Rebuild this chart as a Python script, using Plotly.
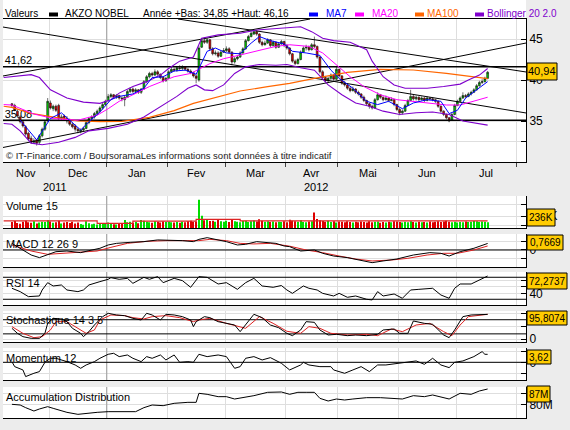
import numpy as np
import pandas as pd
import plotly.graph_objects as go

# AKZO NOBEL, daily candles 11 Nov 2011 -> 17 Jul 2012 (Euronext trading days)
opens = [
    37.1, 36.9, 36.2, 35.5, 34.9, 34.3, 33.5, 32.9, 32.4, 32.7,
    32.4, 33.2, 34.0, 35.0, 37.2, 36.5, 36.8, 36.9, 35.3, 35.6,
    35.3, 35.1, 34.6, 34.4, 34.0, 33.7, 33.9, 34.1, 34.8, 35.3,
    35.5, 35.9, 36.2, 36.6, 37.0, 37.5, 38.0, 38.2, 37.9, 38.1,
    37.8, 37.6, 37.9, 38.6, 38.9, 38.6, 38.8, 38.5, 38.9, 39.8,
    40.4, 40.8, 40.6, 41.0, 40.7, 40.3, 39.9, 40.2, 41.0, 41.3,
    41.2, 41.5, 41.4, 41.6, 41.3, 41.1, 40.9, 40.5, 40.0, 44.0,
    44.8, 44.6, 44.9, 43.8, 43.2, 43.3, 42.9, 43.4, 43.6, 43.8,
    43.4, 42.2, 42.6, 42.8, 43.3, 43.8, 44.8, 45.3, 45.6, 45.9,
    45.6, 44.6, 44.3, 44.5, 44.9, 44.2, 44.6, 44.0, 44.4, 44.7,
    44.2, 43.9, 43.2, 42.3, 42.0, 42.5, 43.4, 43.9, 44.0, 43.7,
    44.3, 44.1, 42.8, 41.0, 40.3, 39.9, 40.2, 40.6, 40.1, 41.3,
    40.5, 39.6, 39.4, 39.0, 38.7, 38.9, 38.5, 38.3, 37.9, 37.5,
    37.1, 36.8, 36.6, 37.6, 38.2, 37.9, 37.6, 37.8, 37.5, 37.6,
    37.0, 36.4, 36.0, 36.2, 36.9, 37.5, 38.0, 37.7, 37.9, 37.6,
    37.8, 37.5, 37.8, 37.7, 37.6, 37.4, 36.8, 36.2, 35.8, 35.4,
    35.1, 35.8, 36.9, 37.4, 37.8, 38.1, 38.0, 38.3, 38.5, 38.8,
    39.3, 39.7, 39.8, 40.2,
]
highs = [
    37.2, 37.1, 36.4, 35.7, 35.1, 34.5, 33.7, 33.2, 32.9, 32.8,
    33.4, 34.2, 35.1, 37.8, 37.5, 37.0, 37.0, 37.1, 35.8, 35.8,
    35.6, 35.3, 34.8, 34.6, 34.2, 34.1, 34.3, 35.0, 35.5, 35.7,
    36.1, 36.4, 36.8, 37.2, 37.6, 38.3, 38.4, 38.3, 38.3, 38.2,
    38.0, 38.1, 38.8, 39.1, 39.1, 39.0, 38.9, 39.0, 40.0, 40.6,
    41.0, 41.0, 41.3, 41.2, 40.8, 40.5, 40.4, 41.2, 41.6, 41.5,
    41.7, 41.8, 41.8, 41.7, 41.5, 41.3, 41.0, 40.7, 44.2, 45.1,
    45.2, 45.1, 45.0, 44.0, 43.6, 43.5, 43.6, 43.9, 44.1, 44.0,
    43.5, 42.8, 43.0, 43.5, 44.0, 45.0, 45.5, 45.9, 46.16, 46.1,
    45.7, 44.8, 44.8, 45.1, 45.0, 44.8, 44.7, 44.6, 44.9, 44.8,
    44.4, 44.0, 43.3, 42.5, 42.7, 43.6, 44.1, 44.3, 44.2, 44.5,
    45.3, 44.2, 42.9, 41.2, 40.5, 40.4, 40.8, 40.7, 41.6, 41.4,
    40.6, 39.9, 39.6, 39.2, 39.2, 39.0, 38.7, 38.4, 38.1, 37.6,
    37.2, 37.0, 37.8, 38.5, 38.3, 38.0, 38.1, 37.9, 37.9, 37.7,
    37.1, 36.6, 36.4, 37.1, 37.7, 38.8, 38.2, 38.1, 38.0, 38.0,
    37.9, 38.0, 37.9, 37.9, 37.7, 37.5, 36.9, 36.3, 35.9, 35.5,
    36.0, 37.1, 37.6, 38.0, 38.5, 38.3, 38.5, 38.7, 39.0, 39.5,
    39.9, 40.1, 40.4, 41.1,
]
lows = [
    36.7, 36.2, 35.4, 34.7, 34.2, 33.2, 32.6, 32.2, 32.2, 32.0,
    32.2, 33.0, 33.8, 34.9, 36.4, 36.2, 36.1, 35.1, 35.0, 35.0,
    34.7, 34.4, 34.1, 33.7, 33.5, 33.5, 33.7, 34.0, 34.6, 35.1,
    35.3, 35.7, 36.0, 36.4, 36.9, 37.3, 37.8, 37.7, 37.7, 37.6,
    37.4, 36.8, 37.8, 38.4, 38.4, 38.3, 38.3, 38.3, 38.8, 39.6,
    40.2, 40.4, 40.5, 40.5, 40.1, 39.7, 39.8, 40.1, 40.9, 41.0,
    41.0, 41.2, 41.2, 41.1, 40.9, 40.7, 40.3, 39.6, 39.8, 43.9,
    44.4, 44.4, 43.6, 43.0, 43.0, 42.7, 42.8, 43.3, 43.4, 43.2,
    41.8, 42.0, 42.4, 42.7, 43.2, 43.7, 44.7, 45.2, 45.5, 45.4,
    44.4, 44.1, 44.2, 44.4, 44.0, 44.1, 43.8, 43.9, 44.3, 44.0,
    43.7, 43.0, 42.1, 41.8, 41.9, 42.4, 43.3, 43.6, 43.5, 43.6,
    43.9, 42.6, 40.8, 40.1, 39.7, 39.7, 40.0, 39.9, 40.0, 40.3,
    39.4, 39.2, 38.8, 38.5, 38.6, 38.3, 38.1, 37.7, 37.3, 36.9,
    36.5, 36.4, 36.5, 37.5, 37.7, 37.4, 37.5, 37.3, 37.4, 36.8,
    36.2, 35.7, 35.8, 36.1, 36.8, 37.4, 37.5, 37.5, 37.4, 37.5,
    37.3, 37.4, 37.5, 37.4, 37.2, 36.6, 36.0, 35.6, 35.2, 34.85,
    35.0, 35.7, 36.8, 37.2, 37.7, 37.8, 37.9, 38.1, 38.4, 38.7,
    39.2, 39.5, 39.7, 40.1,
]
closes = [
    36.9, 36.3, 35.6, 34.9, 34.4, 33.4, 32.8, 32.4, 32.6, 32.3,
    33.2, 34.0, 34.9, 37.4, 36.6, 36.8, 36.3, 35.3, 35.5, 35.2,
    35.0, 34.6, 34.3, 34.0, 33.8, 33.9, 34.1, 34.8, 35.3, 35.5,
    35.9, 36.2, 36.6, 37.0, 37.4, 38.0, 38.2, 37.9, 38.1, 37.8,
    37.7, 37.9, 38.6, 38.9, 38.6, 38.8, 38.5, 38.9, 39.8, 40.4,
    40.8, 40.6, 41.0, 40.7, 40.3, 39.9, 40.2, 41.0, 41.3, 41.2,
    41.5, 41.4, 41.6, 41.3, 41.1, 40.9, 40.5, 40.2, 43.9, 44.8,
    44.6, 44.9, 43.8, 43.2, 43.3, 42.9, 43.4, 43.6, 43.8, 43.4,
    42.2, 42.6, 42.8, 43.3, 43.8, 44.8, 45.3, 45.7, 45.9, 45.6,
    44.6, 44.3, 44.5, 44.9, 44.2, 44.6, 44.0, 44.4, 44.7, 44.2,
    43.9, 43.2, 42.3, 42.0, 42.5, 43.4, 43.9, 44.0, 43.7, 44.3,
    44.1, 42.8, 41.0, 40.3, 39.9, 40.2, 40.6, 40.1, 41.3, 40.5,
    39.6, 39.4, 39.0, 38.7, 38.9, 38.5, 38.3, 37.9, 37.5, 37.1,
    36.8, 36.6, 37.6, 38.2, 37.9, 37.6, 37.8, 37.5, 37.6, 37.0,
    36.4, 36.0, 36.2, 36.9, 37.5, 38.0, 37.7, 37.9, 37.6, 37.8,
    37.5, 37.8, 37.7, 37.6, 37.4, 36.8, 36.2, 35.8, 35.4, 35.0,
    35.8, 36.9, 37.4, 37.8, 38.1, 38.0, 38.3, 38.5, 38.8, 39.3,
    39.7, 39.8, 40.2, 40.94,
]
volumes = [  # thousands of shares
    250, 290, 210, 180, 260, 300, 240, 220, 280, 190,
    230, 260, 250, 320, 270, 220, 240, 300, 190, 230,
    250, 210, 260, 190, 230, 170, 140, 280, 200, 160,
    180, 150, 200, 170, 190, 230, 180, 160, 150, 210,
    190, 330, 240, 260, 220, 250, 200, 330, 300, 260,
    240, 220, 280, 260, 230, 270, 250, 260, 240, 230,
    250, 220, 260, 240, 280, 300, 250, 270, 1180, 510,
    320, 380, 290, 300, 260, 340, 280, 260, 300, 250,
    330, 280, 260, 240, 290, 300, 250, 280, 310, 270,
    360, 300, 260, 280, 250, 270, 240, 260, 250, 280,
    240, 340, 300, 280, 260, 320, 250, 240, 270, 280,
    650, 380, 320, 290, 260, 300, 250, 280, 230, 270,
    260, 240, 280, 250, 230, 260, 240, 270, 250, 230,
    280, 240, 260, 270, 220, 250, 230, 260, 240, 280,
    270, 250, 230, 260, 240, 280, 250, 230, 260, 240,
    250, 230, 270, 240, 260, 280, 250, 270, 300, 260,
    240, 260, 230, 250, 240, 270, 250, 260, 290, 280,
    250, 270, 260, 236,
]
holidays = ["2011-12-26", "2012-04-06", "2012-04-09", "2012-05-01"]
fr_months = {11: "Nov", 12: "Dec", 1: "Jan", 2: "Fev", 3: "Mar", 4: "Avr",
             5: "Mai", 6: "Jun", 7: "Jul"}

# overlays: (day index, value)
ma7_idx = [3, 9, 14, 18, 21, 25, 28, 32, 36, 39, 44, 48, 51, 55, 59, 63, 67, 71, 74, 78,
           83, 87, 90, 94, 99, 102, 107, 112, 116, 119, 124, 129, 133, 137, 142, 146, 151,
           156, 159, 162, 165, 170, 173]
ma7_val = [35.1, 32.7, 35.3, 36.0, 35.1, 33.9, 34.9, 36.1, 37.6, 38.0, 38.3, 39.0, 40.3,
           40.4, 41.1, 41.2, 40.7, 43.5, 43.9, 43.3, 43.2, 44.5, 45.3, 44.8, 44.4, 43.5,
           43.3, 43.0, 41.2, 40.2, 39.0, 37.4, 37.0, 37.4, 36.5, 37.2, 37.6, 37.4, 35.9,
           36.3, 37.8, 39.0, 39.8]
ma20_idx = [-3, 0, 8, 15, 24, 31, 35, 39, 44, 50, 59, 65, 72, 77, 83, 89, 96, 101, 108,
            113, 118, 123, 128, 134, 140, 146, 152, 158, 163, 168, 173]
ma20_val = [37.0, 36.95, 35.85, 35.3, 35.1, 35.7, 36.5, 37.4, 38.2, 39.2, 40.4, 40.8, 42.0,
            42.6, 43.05, 43.5, 44.1, 44.3, 44.1, 43.3, 41.8, 40.4, 39.2, 38.2, 37.6, 37.4,
            37.15, 36.95, 36.95, 37.4, 37.9]
ma100_idx = [-3, 0, 7, 17, 24, 32, 40, 50, 59, 66, 74, 83, 93, 101, 110, 122, 134, 146,
             158, 170, 173]
ma100_val = [36.8, 36.67, 35.93, 35.33, 35.0, 34.92, 34.96, 35.45, 36.26, 37.15, 37.89,
             38.66, 39.19, 39.59, 40.2, 40.93, 41.3, 41.22, 40.81, 40.33, 40.16]
bb_up_idx = [-3, 0, 7, 10, 14, 20, 26, 32, 36, 39, 44, 49, 54, 57, 61, 66, 69, 75, 83, 89,
             99, 105, 109, 113, 117, 123, 129, 131, 135, 139, 143, 151, 157, 163, 166, 170,
             173]
bb_up_val = [40.3, 40.4, 40.65, 40.3, 38.8, 37.8, 37.3, 37.15, 37.6, 38.4, 39.2, 39.8, 40.6,
             41.4, 42.3, 42.8, 45.1, 45.5, 45.7, 46.1, 46.4, 46.5, 45.9, 45.1, 44.8, 44.6,
             43.7, 42.3, 40.4, 39.4, 39.0, 39.0, 39.2, 39.5, 40.0, 40.6, 41.4]
bb_lo_idx = [-3, 0, 3, 7, 11, 17, 23, 28, 35, 42, 48, 54, 60, 64, 67, 70, 73, 77, 81, 85,
             90, 96, 100, 105, 110, 115, 120, 125, 130, 135, 141, 147, 153, 159, 164, 173]
bb_lo_val = [34.7, 34.6, 33.8, 32.3, 32.1, 32.4, 33.0, 33.8, 34.1, 34.6, 35.5, 36.8, 38.0,
             39.0, 39.4, 38.8, 38.7, 39.4, 40.8, 41.6, 41.9, 41.8, 41.9, 41.5, 41.2, 39.4,
             38.2, 37.2, 36.8, 36.2, 35.8, 36.0, 36.1, 35.8, 35.0, 34.5]

# drawn trendlines (day index, price) and horizontal levels
trend_x0 = [-3.24, -3.24, -3.24, 60.4]
trend_y0 = [31.77, 40.49, 46.46, 47.44]
trend_x1 = [186.95, 108.4, 186.95, 186.95]
trend_y1 = [44.51, 47.44, 35.98, 40.98]
levels = [41.62, 35.08]

vol_ma_idx = [-3, 31, 44, 67, 83, 173]
vol_ma_val = [300, 196, 285, 363, 300, 300]

macd_idx = [0, 3, 7, 10, 13, 16, 20, 25, 28, 32, 35, 38, 43, 48, 53, 58, 62, 66, 68, 71,
            75, 78, 82, 85, 89, 93, 96, 99, 101, 105, 110, 113, 117, 122, 127, 131, 135,
            140, 146, 152, 156, 159, 163, 168, 173]
macd_val = [0.78, 0.20, -0.59, -0.90, -0.59, -0.20, -0.12, -0.31, -0.08, 0.20, 0.59, 0.78,
            0.90, 0.98, 1.18, 1.18, 1.10, 0.98, 1.25, 1.45, 1.18, 0.98, 0.59, 0.67, 0.98,
            0.86, 0.78, 0.47, 0.39, -0.12, 0.0, -0.39, -0.71, -0.90, -1.18, -1.49, -1.29,
            -1.06, -0.59, -0.31, -0.39, -0.71, -0.20, 0.20, 0.77]
sig_idx = [0, 7, 13, 18, 24, 31, 36, 42, 49, 56, 64, 68, 72, 78, 83, 88, 94, 101, 107,
           113, 119, 125, 131, 138, 144, 151, 157, 162, 168, 173]
sig_val = [0.59, -0.12, -0.51, -0.39, -0.20, -0.12, 0.31, 0.78, 1.02, 1.10, 1.10, 1.10,
           1.25, 1.10, 0.78, 0.71, 0.78, 0.45, 0.0, -0.31, -0.71, -1.06, -1.29, -1.18,
           -0.98, -0.59, -0.39, -0.39, 0.0, 0.47]
rsi_idx = [0, 3, 6, 10, 11, 13, 15, 18, 20, 24, 26, 28, 32, 35, 36, 39, 42, 44, 48, 50,
           53, 55, 59, 62, 65, 68, 71, 75, 78, 82, 85, 88, 91, 95, 98, 100, 102, 106, 108,
           111, 113, 117, 119, 122, 125, 129, 131, 133, 135, 139, 142, 145, 148, 153, 156,
           159, 161, 163, 167, 170, 173]
rsi_val = [50.0, 43.9, 34.8, 36.0, 46.9, 60.2, 54.2, 56.0, 46.9, 43.9, 46.9, 56.0, 62.1,
           66.3, 69.3, 66.3, 68.1, 59.0, 69.9, 66.3, 71.2, 60.2, 68.1, 63.9, 51.8, 71.2,
           69.9, 57.8, 60.2, 48.1, 60.2, 68.1, 54.2, 51.8, 55.0, 46.9, 40.8, 54.2, 50.0,
           46.9, 40.8, 36.0, 40.8, 33.6, 36.0, 30.0, 28.8, 43.9, 36.0, 39.6, 31.8, 46.9,
           48.1, 50.0, 37.8, 31.8, 50.0, 57.8, 57.8, 65.1, 72.27]
stk_idx = [0, 2, 4, 7, 10, 12, 13, 15, 18, 20, 22, 25, 26, 28, 30, 33, 35, 38, 41, 44,
           47, 49, 51, 54, 56, 59, 62, 65, 66, 67, 70, 72, 75, 78, 81, 83, 85, 88, 91, 94,
           97, 100, 102, 105, 107, 110, 112, 115, 118, 122, 125, 129, 133, 135, 139, 141,
           144, 146, 150, 153, 157, 159, 161, 164, 167, 170, 173]
stk_val = [41.6, 22.1, 9.1, 2.6, 2.6, 22.1, 61.0, 80.5, 77.9, 67.5, 41.6, 22.1, 9.1, 28.6,
           54.5, 87.0, 100, 93.5, 90.9, 80.5, 74.0, 100, 93.5, 74.0, 96.1, 93.5, 87.0,
           74.0, 48.1, 67.5, 87.0, 83.1, 67.5, 61.0, 54.5, 28.6, 54.5, 96.1, 83.1, 54.5,
           44.0, 22.1, 13.0, 35.1, 67.5, 64.9, 35.1, 15.6, 18.2, 13.0, 15.6, 13.0, 18.2,
           35.1, 39.0, 22.1, 22.1, 70.1, 61.0, 57.1, 15.6, 5.2, 35.1, 87.0, 93.5, 96.1,
           95.81]
std_idx = [0, 4, 8, 11, 14, 16, 20, 24, 27, 30, 32, 36, 41, 44, 48, 51, 56, 61, 66, 68,
           72, 78, 83, 85, 90, 95, 100, 105, 108, 112, 116, 122, 129, 133, 138, 142, 147,
           152, 157, 160, 163, 166, 173]
std_val = [48.1, 22.1, 5.2, 9.1, 35.1, 67.5, 67.5, 41.6, 22.1, 35.1, 74.0, 93.5, 90.9,
           83.1, 77.9, 87.0, 90.9, 83.1, 67.5, 74.0, 80.5, 61.0, 48.1, 41.6, 87.0, 61.0,
           30.0, 22.1, 48.1, 41.6, 22.1, 15.6, 18.2, 13.0, 39.0, 28.6, 54.5, 61.0, 28.6,
           13.0, 54.5, 87.0, 96.1]
mom_idx = [0, 1, 4, 5, 8, 10, 12, 14, 16, 20, 23, 25, 27, 30, 32, 35, 37, 39, 42, 44, 47,
           49, 51, 54, 56, 59, 61, 64, 66, 68, 71, 75, 78, 81, 83, 85, 88, 91, 94, 98, 101,
           105, 106, 108, 112, 116, 117, 121, 124, 127, 130, 133, 136, 141, 145, 147, 150,
           153, 156, 159, 161, 164, 168, 171, 172, 173]
mom_val = [0.30, -1.97, -3.48, -6.5, -5.0, -4.24, 0, 1.82, 1.82, 0.30, -1.21, -2.73, -1.21,
           0.30, 1.82, 3.64, 4.09, 2.58, 3.33, 1.82, 0.30, 2.58, 1.82, 3.33, 1.06, 3.33, 0,
           0.30, 0, 3.64, 2.58, 3.33, 2.58, -2.73, -1.97, 1.82, 2.58, 1.06, 2.12, -0.45,
           -3.48, -1.21, 0, -1.21, -1.97, -1.97, -3.48, -5.0, -3.48, -1.97, -4.24, -1.21,
           -1.21, -0.45, 0, 0.61, -0.91, 1.82, -1.21, -2.42, 0, 0.61, 2.58, 4.85, 3.64, 3.62]
ad_idx = [0, 3, 5, 8, 10, 13, 15, 18, 20, 24, 27, 31, 35, 38, 42, 45, 48, 51, 55, 59, 64,
          67, 68, 71, 75, 78, 81, 84, 88, 93, 98, 101, 104, 107, 110, 112, 115, 118, 121,
          124, 129, 134, 139, 142, 146, 150, 153, 157, 159, 163, 167, 170, 173]
ad_val = [80.08, 79.77, 78.54, 77.0, 77.93, 79.0, 78.23, 77.0, 76.39, 75.47, 75.93, 76.39,
          76.7, 76.7, 76.39, 76.7, 78.54, 79.77, 79.46, 80.54, 81.0, 81.0, 85.15, 84.69,
          83.61, 83.61, 82.53, 83.15, 84.07, 85.61, 85.76, 84.69, 85.61, 85.61, 85.61,
          82.84, 81.61, 82.53, 82.07, 82.53, 83.15, 83.15, 82.84, 82.53, 84.07, 83.61,
          84.38, 83.15, 82.53, 85.15, 84.69, 86.22, 87.14]

# last values shown in the yellow boxes (main one comes from closes)
last_labels = ["236K", "0,7669", "72,2737", "95,8074", "3,62", "87M"]
panel_titles = ["Volume 15", "MACD 12 26 9", "RSI 14", "Stochastique 14 3 5",
                "Momentum 12", "Accumulation Distribution"]

FONT = "Liberation Sans, Arial, sans-serif"
BG = "#ececec"
GRID = "#dedede"
PURPLE = "#7f00cc"
W, H = 570, 430
ML, MR, MT, MB = 3, 44, 19, 12
PW, PH = W - ML - MR, H - MT - MB


def fx(p):
    return (p - ML) / PW


def fy(p):
    return (H - MB - p) / PH


days = pd.bdate_range("2011-11-11", "2012-08-31")
days = days[~days.isin(pd.to_datetime(holidays))]
idx = np.arange(len(closes))
bounds = [k - 0.5 for k in range(1, len(days)) if days[k].month != days[k - 1].month]
XR = [-3.24, 186.95]
jan = next(b for b in bounds if days[int(b + 0.5)].month == 1)
j0 = int(jan + 0.5)

fig = go.Figure()


def line(x, y, color, width=1, ax="", shape="linear"):
    fig.add_trace(go.Scatter(x=x, y=y, mode="lines", line=dict(color=color, width=width, shape=shape),
                             xaxis="x" + ax, yaxis="y" + ax, hoverinfo="skip", showlegend=False))


# darker year-boundary line in every panel, under the data
for k in range(1, 8):
    s = "" if k == 1 else str(k)
    fig.add_trace(go.Scatter(x=[jan, jan], y=[-1e6, 1e6], mode="lines",
                             line=dict(color="#9a9a9a", width=1), xaxis="x" + s, yaxis="y" + s,
                             hoverinfo="skip", showlegend=False))

# ---- main price panel ----
fig.add_trace(go.Scatter(
    x=[XR[0] + 0.6] * len(levels), y=levels, mode="text",
    text=[f"{v:.2f}".replace(".", ",") for v in levels], textposition="top right",
    textfont=dict(family=FONT, size=11, color="black"), hoverinfo="skip", showlegend=False))
for a, b, c, d in zip(trend_x0, trend_y0, trend_x1, trend_y1):
    line([a, c], [b, d], "black", 1)
for v in levels:
    line(XR, [v, v], "black", 1.5)

fig.add_trace(go.Candlestick(
    x=idx, open=opens, high=highs, low=lows, close=closes,
    increasing=dict(line=dict(color="#111111", width=0.6), fillcolor="#00cc00"),
    decreasing=dict(line=dict(color="#111111", width=0.6), fillcolor="#dd0000"),
    whiskerwidth=0, hoverinfo="skip", showlegend=False))

line(ma100_idx, ma100_val, "#ff6600", 1.2)
line(bb_up_idx, bb_up_val, PURPLE, 1.1)
line(bb_lo_idx, bb_lo_val, PURPLE, 1.1)
line(ma20_idx, ma20_val, "#ff00ff", 1)
line(ma7_idx, ma7_val, "#0000ff", 1)

# ---- indicator panels ----
vol_colors = ["#00dd00" if c >= o else "#dd0000" for o, c in zip(opens, closes)]
fig.add_trace(go.Bar(x=idx, y=volumes, width=0.4, marker=dict(color=vol_colors, line_width=0),
                     xaxis="x2", yaxis="y2", hoverinfo="skip", showlegend=False))
line(vol_ma_idx, vol_ma_val, "#dd2222", 1.2, "2", "hv")

line(XR, [0, 0], "black", 1, "3")
line(sig_idx, sig_val, "#dd2222", 1, "3")
line(macd_idx, macd_val, "black", 1, "3")

for v in (70, 30):
    line(XR, [v, v], "black", 1, "4")
line(rsi_idx, rsi_val, "black", 1, "4")

for v in (75, 20):
    line(XR, [v, v], "black", 1, "5")
line(std_idx, std_val, "#dd2222", 1, "5")
line(stk_idx, stk_val, "black", 1, "5")

line(XR, [0, 0], "black", 1, "6")
line(mom_idx, mom_val, "black", 1, "6")

line(ad_idx, ad_val, "black", 1, "7")

# ---- axes ----
panels = [  # top px, bottom px, y range, tick values, tick labels
    (19, 162, [30.0, 47.44], [32.5, 35, 40, 45], ["", "35", "40", "45"]),
    (196, 228, [0, 1334], [100, 500, 1000], ["", "500K", ""]),
    (234, 267, [-2.0, 1.88], [-1, 0, 1], ["", "0", ""]),
    (272, 305, [19.6, 79.6], [40, 53, 65], ["40", "", ""]),
    (311, 342, [-11.7, 109], [0, 50, 100], ["0", "", ""]),
    (348, 380, [-8.05, 6.5], [-5, 0, 5], ["", "0", ""]),
    (387, 418, [73.78, 88.06], [80, 85], ["80M", ""]),
]
axes = {}
shapes = []
for k, (top, bot, yr, tv, tt) in enumerate(panels, start=1):
    s = "" if k == 1 else str(k)
    axes["xaxis" + s] = dict(
        domain=[0, 1], range=XR, anchor="y" + s, tickmode="array", tickvals=bounds,
        showticklabels=False, ticks="outside" if k == 1 else "", ticklen=4, tickcolor="#444",
        showgrid=True, gridcolor=GRID, gridwidth=1, zeroline=False, showline=True,
        linecolor="black", linewidth=1, mirror=(k == 1), fixedrange=True,
        rangeslider=dict(visible=False))
    axes["yaxis" + s] = dict(
        domain=[fy(bot), fy(top)], range=yr, anchor="x" + s, side="right",
        tickmode="array", tickvals=tv, ticktext=tt, ticks="inside", ticklen=5,
        tickcolor="black", showgrid=True, gridcolor=GRID, zeroline=False, showline=True,
        linecolor="black", linewidth=1, fixedrange=True,
        tickfont=dict(family=FONT, size=12, color="black"))

# white header strip above the price panel
shapes.append(dict(type="rect", xref="paper", yref="paper", x0=fx(3), x1=fx(526),
                   y0=fy(19), y1=fy(0), fillcolor="white", line_width=0, layer="below"))

ann = []
# header legend
bas = f"{min(lows[j0:]):.2f}".replace(".", ",")
haut = f"{max(highs[j0:]):.2f}".replace(".", ",")
header = [(4, "Valeurs", "black"), (64, "AKZO NOBEL", "black"),
          (142, f"Année +Bas: {bas} +Haut: {haut}", "black"),
          (325, "MA7", "#0000ff"), (371, "MA20", "#ff00ff"),
          (426, "MA100", "#ff6600"), (486, "Bollinger 20 2.0", PURPLE)]
for x, t, c in header:
    ann.append(dict(x=fx(x), y=fy(13.5), xref="paper", yref="paper", text=t, showarrow=False,
                    xanchor="left", yanchor="middle", xshift=-1,
                    font=dict(family=FONT, size=10, color=c)))
for x, c in [(49, "black"), (309, "#0000ff"), (355, "#ff00ff"), (415, "#ff6600"), (475, PURPLE)]:
    shapes.append(dict(type="rect", xref="paper", yref="paper", x0=fx(x), x1=fx(x + 9),
                       y0=fy(16.5), y1=fy(12.5), fillcolor=c, line_width=0))

ann.append(dict(x=fx(5), y=fy(155), xref="paper", yref="paper", showarrow=False,
                text="© IT-Finance.com / BoursoramaLes informations sont données à titre indicatif",
                xanchor="left", yanchor="middle", xshift=-1,
                font=dict(family=FONT, size=9.5, color="#222")))

# month and year labels under the price panel
starts = [XR[0]] + bounds
ends = bounds + [XR[1]]
for s0, e0 in zip(starts, ends):
    if s0 > idx[-1]:
        continue
    m = days[max(0, int(np.ceil(s0)))].month
    ann.append(dict(x=(s0 + min(e0, XR[1])) / 2, y=fy(173), xref="x", yref="paper",
                    text=fr_months[m], showarrow=False, xanchor="center", yanchor="middle",
                    font=dict(family=FONT, size=11)))
for xm, t in [((XR[0] + jan) / 2, str(days[0].year)), ((jan + XR[1]) / 2, str(days[j0].year))]:
    ann.append(dict(x=xm, y=fy(187), xref="x", yref="paper", text=t, showarrow=False,
                    xanchor="center", yanchor="middle", font=dict(family=FONT, size=11)))

# panel titles
for t, yc in zip(panel_titles, [206, 244, 282.5, 320, 358, 397]):
    ann.append(dict(x=fx(5), y=fy(yc), xref="paper", yref="paper", text=t, showarrow=False,
                    xanchor="left", yanchor="middle", xshift=-1,
                    font=dict(family=FONT, size=11)))

# yellow last-value boxes
box_px = [(527, 557, 63, 80), (527, 555, 209, 226), (527, 563, 235, 250), (527, 567, 273, 289),
          (527, 567, 311, 325), (527, 551, 350, 364), (527, 550, 386, 402)]
box_txt = [f"{closes[-1]:.2f}".replace(".", ",")] + last_labels
for (x0, x1, y0, y1), t in zip(box_px, box_txt):
    shapes.append(dict(type="rect", xref="paper", yref="paper", x0=fx(x0), x1=fx(x1),
                       y0=fy(y1), y1=fy(y0), fillcolor="#ffcc00",
                       line=dict(color="black", width=1), layer="above"))
    ann.append(dict(x=fx((x0 + x1) / 2), y=fy((y0 + y1) / 2), xref="paper", yref="paper",
                    text=t, showarrow=False, xanchor="center", yanchor="middle",
                    font=dict(family=FONT, size=11 if t == box_txt[0] else 10, color="black")))

fig.update_layout(
    width=W, height=H, margin=dict(l=ML, r=MR, t=MT, b=MB),
    paper_bgcolor=BG, plot_bgcolor="white", showlegend=False, boxgap=0.05,
    font=dict(family=FONT, size=11, color="black"),
    shapes=shapes, annotations=ann, **axes)

fig.write_html("out.html", config={"displayModeBar": False},
               post_script="document.body.style.margin='0';document.body.style.overflow='hidden';")
